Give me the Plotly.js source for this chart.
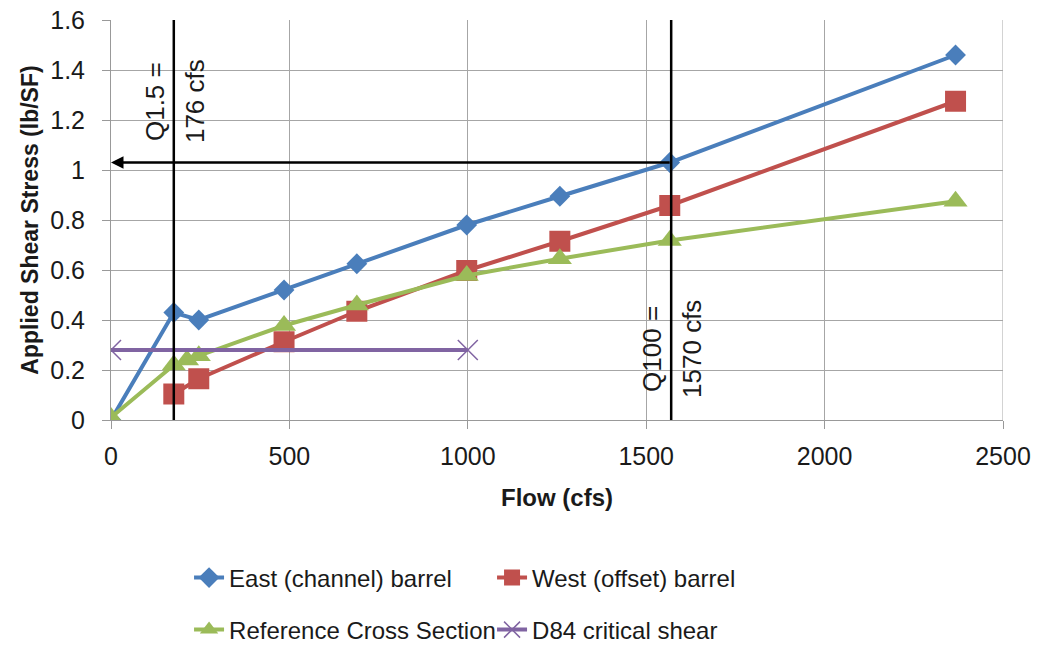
<!DOCTYPE html>
<html>
<head>
<meta charset="utf-8">
<script src="https://cdn.plot.ly/plotly-3.0.1.min.js"></script>
<style>html,body{margin:0;padding:0;background:#fff;}#chart{width:1037px;height:645px;}</style>
</head>
<body>
<div id="chart"></div>
<script>
// Data
const eastFlow   = [0, 176, 246, 485, 689, 997, 1258, 1566, 2367];
const eastShear  = [0, 0.43, 0.40, 0.52, 0.625, 0.78, 0.895, 1.03, 1.46];
const westFlow   = [176, 246, 485, 689, 997, 1258, 1566, 2367];
const westShear  = [0.104, 0.165, 0.313, 0.435, 0.598, 0.715, 0.858, 1.275];
const refFlow    = [0, 176, 213, 246, 485, 689, 997, 1258, 1566, 2367];
const refShear   = [0.01, 0.22, 0.24, 0.257, 0.378, 0.46, 0.578, 0.645, 0.718, 0.875];
const d84Flow    = [0, 1000];
const d84Shear   = [0.28, 0.28];
const q15 = 176, q100 = 1570;
const arrowShear = 1.03;
const xTicks = [0, 500, 1000, 1500, 2000, 2500];
const yTicks = [0, 0.2, 0.4, 0.6, 0.8, 1, 1.2, 1.4, 1.6];
const yTickText = ['0', '0.2', '0.4', '0.6', '0.8', '1', '1.2', '1.4', '1.6'];

const FONT = '"Liberation Sans", Arial, sans-serif';
const TXT = '#1a1a1a';
const lw = 4;

const traces = [
  {x: eastFlow, y: eastShear, name: 'East (channel) barrel', mode: 'lines+markers',
   line: {color: '#4A7EBB', width: lw}, marker: {symbol: 'diamond', size: 16, color: '#4A7EBB'}, legend: 'legend'},
  {x: westFlow, y: westShear, name: 'West (offset) barrel', mode: 'lines+markers',
   line: {color: '#C0504D', width: lw}, marker: {symbol: 'square', size: 21, color: '#C0504D'}, legend: 'legend'},
  {x: refFlow, y: refShear, name: 'Reference Cross Section', mode: 'lines+markers',
   line: {color: '#9BBB59', width: lw}, marker: {symbol: 'triangle-up', size: 21, color: '#9BBB59'}, legend: 'legend2'},
  {x: d84Flow, y: d84Shear, name: 'D84 critical shear', mode: 'lines+markers',
   line: {color: '#8064A2', width: lw}, marker: {symbol: 'x-thin-open', size: 20, color: '#8064A2', line: {color: '#8064A2', width: 1.5}}, legend: 'legend2'}
];

const legendCommon = {orientation: 'h', xref: 'paper', yref: 'container', xanchor: 'left', yanchor: 'middle',
  font: {family: FONT, size: 24, color: TXT}, entrywidth: 258, entrywidthmode: 'pixels',
  bgcolor: 'rgba(0,0,0,0)'};

const layout = {
  width: 1037, height: 645,
  margin: {l: 111, r: 34, t: 20, b: 225},
  paper_bgcolor: '#fff', plot_bgcolor: '#fff',
  font: {family: FONT, color: TXT},
  showlegend: true,
  legend: Object.assign({}, legendCommon, {x: 0.0875, y: 1 - 578/645}),
  legend2: Object.assign({}, legendCommon, {x: 0.0875, y: 1 - 630/645}),
  xaxis: {
    range: [0, 2500], tickvals: xTicks, ticks: 'outside', ticklen: 8, tickcolor: '#999',
    ticklabelstandoff: 6,
    showgrid: true, gridcolor: '#a6a6a6', gridwidth: 1, zeroline: false,
    showline: true, linecolor: '#999', linewidth: 1,
    tickfont: {family: FONT, size: 25, color: TXT},
    title: {text: '<b>Flow (cfs)</b>', font: {family: FONT, size: 24, color: TXT}, standoff: 20}
  },
  yaxis: {
    range: [0, 1.6], tickvals: yTicks, ticktext: yTickText, ticks: 'outside', ticklen: 8, tickcolor: '#999',
    ticklabelstandoff: 12,
    showgrid: true, gridcolor: '#a6a6a6', gridwidth: 1, zeroline: false,
    showline: true, linecolor: '#999', linewidth: 1,
    tickfont: {family: FONT, size: 25, color: TXT},
    title: {text: '<b>Applied Shear Stress (lb/SF)</b>', font: {family: FONT, size: 23, color: TXT}, standoff: 5}
  },
  shapes: [
    {type: 'line', xref: 'x', yref: 'y', x0: 2500, x1: 2500, y0: 0, y1: 1.6, line: {color: '#a6a6a6', width: 1}, layer: 'below'},
    {type: 'line', xref: 'x', yref: 'y', x0: q15, x1: q15, y0: 0, y1: 1.6, line: {color: '#000', width: 2.5}},
    {type: 'line', xref: 'x', yref: 'y', x0: q100, x1: q100, y0: 0, y1: 1.6, line: {color: '#000', width: 2.5}}
  ],
  annotations: [
    {x: 0, y: arrowShear, ax: q100, ay: arrowShear, xref: 'x', yref: 'y', axref: 'x', ayref: 'y',
     showarrow: true, arrowhead: 2, arrowsize: 1, arrowwidth: 2.5, arrowcolor: '#000', text: ''},
    {x: q15, y: 1.275, xref: 'x', yref: 'y', text: 'Q1.5 =', textangle: -90, showarrow: false,
     xanchor: 'right', xshift: -2, font: {family: FONT, size: 26, color: TXT}},
    {x: q15, y: 1.275, xref: 'x', yref: 'y', text: '176 cfs', textangle: -90, showarrow: false,
     xanchor: 'left', xshift: 4, font: {family: FONT, size: 26, color: TXT}},
    {x: q100, y: 0.285, xref: 'x', yref: 'y', text: 'Q100 =', textangle: -90, showarrow: false,
     xanchor: 'right', xshift: -2, font: {family: FONT, size: 26, color: TXT}},
    {x: q100, y: 0.285, xref: 'x', yref: 'y', text: '1570 cfs', textangle: -90, showarrow: false,
     xanchor: 'left', xshift: 4, font: {family: FONT, size: 26, color: TXT}}
  ]
};

Plotly.newPlot('chart', traces, layout, {displayModeBar: false, staticPlot: true});
</script>
</body>
</html>
